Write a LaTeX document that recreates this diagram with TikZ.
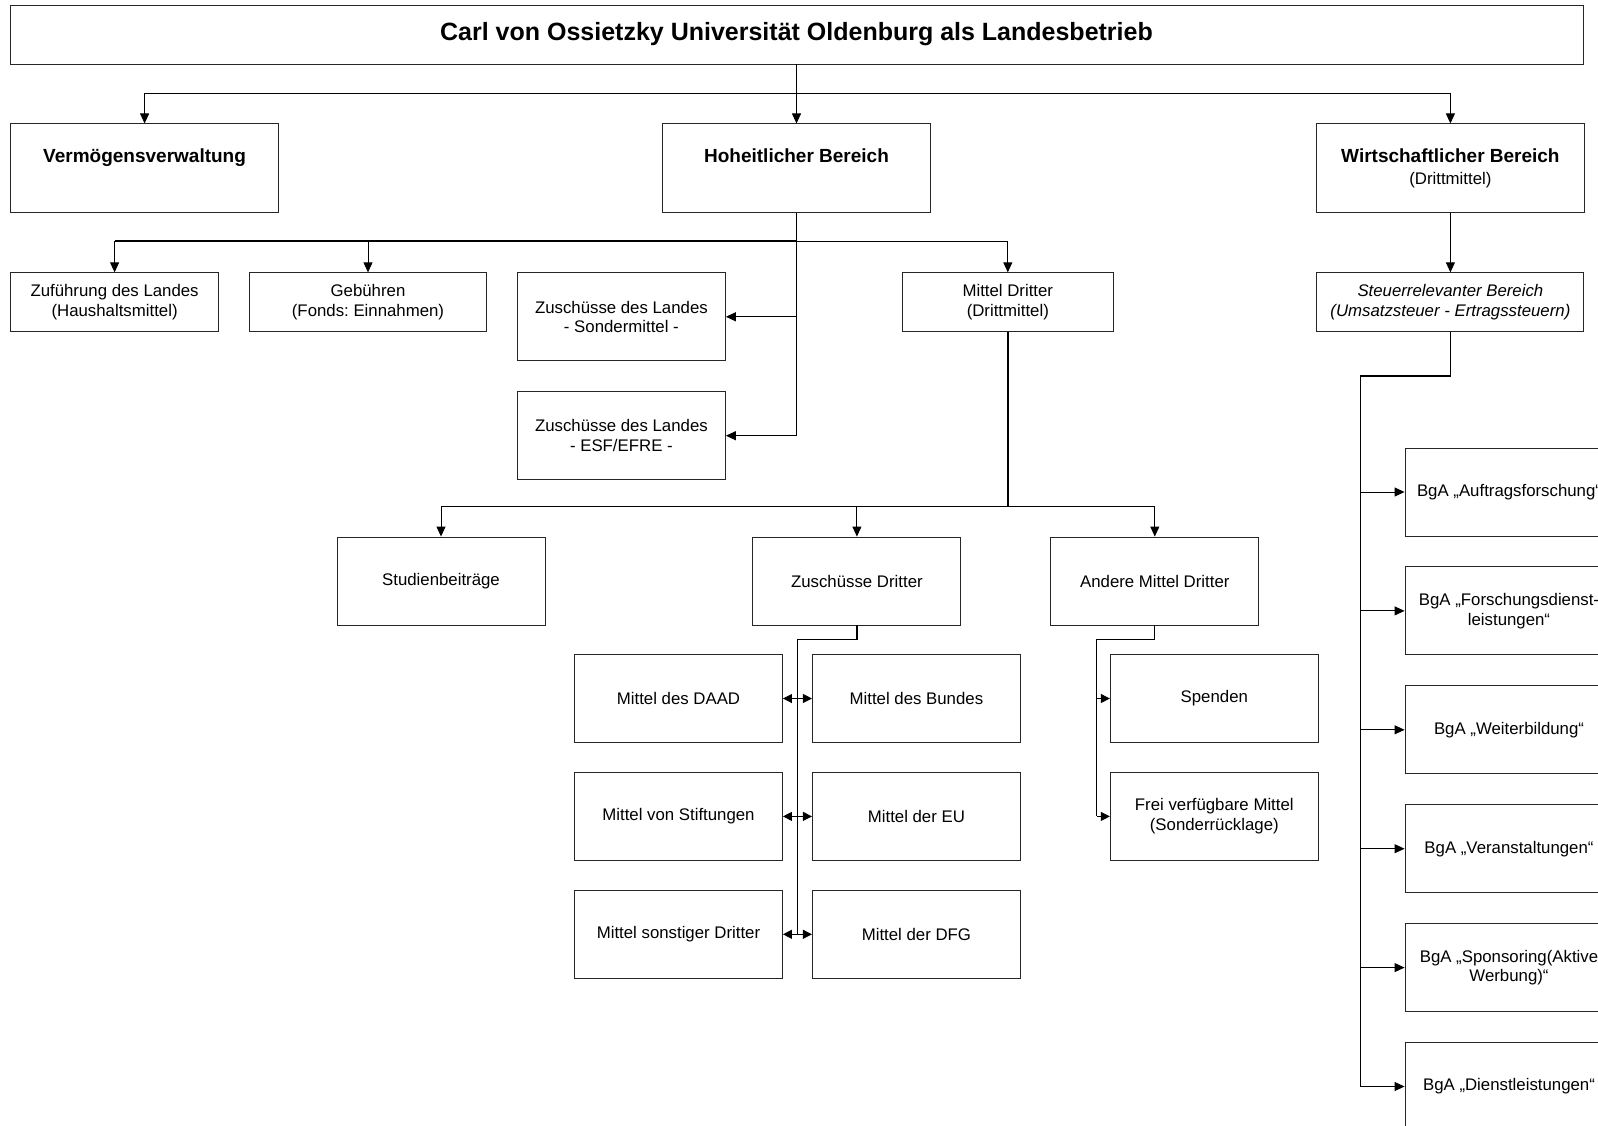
\documentclass[tikz,border=0pt]{standalone}
\usepackage{fontspec}
\setmainfont{Liberation Sans}
\usetikzlibrary{arrows.meta, positioning, calc}
\frenchspacing

\begin{document}
\begin{tikzpicture}[
    x=1pt, y=-1pt,
    node distance=30pt and 30pt,
    box/.style={
        rectangle, draw=black!85, line width=0.9pt,
        minimum width=208pt, minimum height=88pt,
        align=center, font=\fontsize{16.8}{19.6}\selectfont,
        inner sep=2pt
    },
    flatbox/.style={box, minimum height=59pt},
    headbox/.style={
        box, minimum width=268pt, minimum height=89pt,
        font=\fontsize{19}{22.5}\selectfont\bfseries
    },
    titlebox/.style={
        box, minimum width=1573pt, minimum height=59pt,
        font=\fontsize{25}{29}\selectfont\bfseries
    },
    arr/.style={-{Triangle[length=10pt, width=9pt]}, line width=0.9pt},
    smallarr/.style={-{Triangle[length=9pt, width=9pt]}, line width=0.9pt},
    thickline/.style={line width=1.8pt},
]

\useasboundingbox (0,0) rectangle (1598,1125);
\clip (0,0) rectangle (1598,1125);

\node[titlebox] (title) at (796.5,34.5) {Carl von Ossietzky Universität Oldenburg als Landesbetrieb};

% ── Main areas ──────
\node[headbox, below=59pt of title] (hoh) {Hoheitlicher Bereich\\\phantom{(D)}};
\node[headbox, left=383pt of hoh] (verm) {Vermögensverwaltung\\\phantom{(D)}};
\node[headbox, right=385pt of hoh] (wirt) {Wirtschaftlicher Bereich\\{\fontsize{16.8}{19.6}\selectfont\mdseries (Drittmittel)}};

% ── Second row ──────
\node[flatbox, below=59pt of verm.south west, anchor=north west] (zufuehr) {Zuführung des Landes\\(Haushaltsmittel)};
\node[flatbox, minimum width=237pt, right=30pt of zufuehr] (gebuehr) {Gebühren\\(Fonds: Einnahmen)};
\node[box, right=30pt of gebuehr.north east, anchor=north west] (zlsonder) {Zuschüsse des Landes\\- Sondermittel -};
\node[box, below=30pt of zlsonder] (zlesf) {Zuschüsse des Landes\\- ESF/EFRE -};
\node[flatbox, minimum width=211pt, right=176pt of zlsonder.north east, anchor=north west] (mitteldr) {Mittel Dritter\\(Drittmittel)};
\node[flatbox, minimum width=267pt, below=59pt of wirt, font=\fontsize{16.8}{19.6}\selectfont\itshape] (steuer) {Steuerrelevanter Bereich\\(Umsatzsteuer - Ertragssteuern)};

% ── Mittel Dritter ──────
\node[box] (studien) at (441,581) {Studienbeiträge};
\node[box, right=207pt of studien] (zdritt) {Zuschüsse Dritter};
\node[box, right=89pt of zdritt] (andere) {Andere Mittel Dritter};

\node[box] (daad) at (678.5,698.5) {Mittel des DAAD};
\node[box, right=29pt of daad] (bund) {Mittel des Bundes};
\node[box, below=29pt of daad] (stift) {Mittel von Stiftungen};
\node[box, below=29pt of bund] (eu) {Mittel der EU};
\node[box, below=29pt of stift] (sonst) {Mittel sonstiger Dritter};
\node[box, below=29pt of eu] (dfg) {Mittel der DFG};
\node[box, right=89pt of bund] (spenden) {Spenden};
\node[box, below=29pt of spenden] (frei) {Frei verfügbare Mittel\\(Sonderrücklage)};

% ── Betriebe gewerblicher Art ──────
\node[box] (bga1) at (1509,492) {BgA „Auftragsforschung“};
\node[box, below=of bga1] (bga2) {BgA „Forschungsdienst-\\leistungen“};
\node[box, below=of bga2] (bga3) {BgA „Weiterbildung“};
\node[box, below=of bga3] (bga4) {BgA „Veranstaltungen“};
\node[box, below=of bga4] (bga5) {BgA „Sponsoring(Aktive\\Werbung)“};
\node[box, below=of bga5] (bga6) {BgA „Dienstleistungen“};

% ── Title to main areas ──────
\coordinate[below=29pt of title.south] (tbus);
\draw[arr] (title.south) -- (hoh.north);
\draw[arr] (tbus) -| (verm.north);
\draw[arr] (tbus) -| (wirt.north);

% ── Hoheitlicher Bereich ──────
\coordinate[below=28pt of hoh.south] (hbus);
\draw[thickline] (hbus) -- (zufuehr.north |- hbus);
\draw[arr] (hoh.south) -- (hbus) -| (mitteldr.north);
\draw[arr] (hbus) -| (zufuehr.north);
\draw[arr] (hbus) -| (gebuehr.north);
\draw[arr] (hbus) |- (zlsonder.east);
\draw[arr] (hbus) |- (zlesf.east);

% ── Mittel Dritter ──────
\coordinate (mbus) at ($(mitteldr.south |- zdritt.north)+(0,-30)$);
\draw[thickline] (mitteldr.south) -- (mbus);
\draw[arr] (mbus) -| (studien.north);
\draw[arr] (mbus) -| (zdritt.north);
\draw[arr] (mbus) -| (andere.north);

% ── Zuschüsse Dritter ──────
\coordinate (zmid1) at ($(daad.east)!0.5!(bund.west)$);
\coordinate (zmid2) at ($(stift.east)!0.5!(eu.west)$);
\coordinate (zmid3) at ($(sonst.east)!0.5!(dfg.west)$);
\draw[thickline] (zdritt.south) -- ++(0,14) -| (zmid3);
\draw[smallarr] (zmid1) -- (daad.east);
\draw[smallarr] (zmid1) -- (bund.west);
\draw[smallarr] (zmid2) -- (stift.east);
\draw[smallarr] (zmid2) -- (eu.west);
\draw[smallarr] (zmid3) -- (sonst.east);
\draw[smallarr] (zmid3) -- (dfg.west);

% ── Andere Mittel Dritter ──────
\coordinate[left=13pt of spenden.west] (abus1);
\coordinate[left=13pt of frei.west] (abus2);
\draw[line width=0.9pt] (andere.south) -- ++(0,14) -| (abus2);
\draw[smallarr] (abus1) -- (spenden.west);
\draw[smallarr] (abus2) -- (frei.west);

% ── Wirtschaftlicher Bereich ──────
\draw[arr] (wirt.south) -- (steuer.north);
\coordinate[left=44pt of bga1.west] (sbus1);
\coordinate[left=44pt of bga2.west] (sbus2);
\coordinate[left=44pt of bga3.west] (sbus3);
\coordinate[left=44pt of bga4.west] (sbus4);
\coordinate[left=44pt of bga5.west] (sbus5);
\coordinate[left=44pt of bga6.west] (sbus6);
\draw[thickline] (steuer.south) -- ++(0,44) -| (sbus6);
\draw[arr] (sbus1) -- (bga1.west);
\draw[arr] (sbus2) -- (bga2.west);
\draw[arr] (sbus3) -- (bga3.west);
\draw[arr] (sbus4) -- (bga4.west);
\draw[arr] (sbus5) -- (bga5.west);
\draw[arr] (sbus6) -- (bga6.west);

\end{tikzpicture}
\end{document}
